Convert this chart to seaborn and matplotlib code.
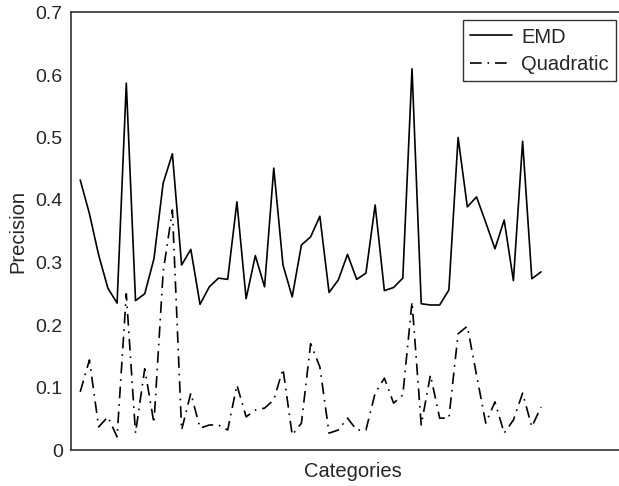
import numpy as np
import pandas as pd
import matplotlib
matplotlib.use('Agg')
import matplotlib.pyplot as plt
import seaborn as sns

# precision per category
emd = [0.432, 0.378, 0.312, 0.259, 0.235, 0.587, 0.239, 0.250, 0.306, 0.427,
       0.474, 0.296, 0.321, 0.233, 0.261, 0.275, 0.273, 0.397, 0.242, 0.311,
       0.261, 0.451, 0.296, 0.245, 0.328, 0.341, 0.374, 0.252, 0.272, 0.313,
       0.273, 0.283, 0.392, 0.255, 0.260, 0.275, 0.610, 0.234, 0.232, 0.232,
       0.256, 0.500, 0.389, 0.405, 0.364, 0.322, 0.368, 0.271, 0.494, 0.274, 0.285]
quadratic = [0.093, 0.144, 0.037, 0.053, 0.021, 0.250, 0.027, 0.130, 0.043, 0.285,
             0.384, 0.032, 0.091, 0.035, 0.040, 0.040, 0.032, 0.104, 0.053, 0.064,
             0.067, 0.080, 0.130, 0.024, 0.043, 0.170, 0.133, 0.027, 0.032, 0.051,
             0.032, 0.032, 0.091, 0.115, 0.075, 0.088, 0.237, 0.040, 0.120, 0.051,
             0.051, 0.186, 0.198, 0.120, 0.043, 0.077, 0.027, 0.048, 0.091, 0.037, 0.069]
categories = list(range(1, len(emd) + 1))
series_names = ['EMD', 'Quadratic']
yticks = [0, 0.1, 0.2, 0.3, 0.4, 0.5, 0.6, 0.7]
ytick_labels = ['0', '0.1', '0.2', '0.3', '0.4', '0.5', '0.6', '0.7']

df = pd.DataFrame({
    'Category': categories * 2,
    'Precision': emd + quadratic,
    'Method': [series_names[0]] * len(emd) + [series_names[1]] * len(quadratic),
})

sns.set_style('white')
plt.rcParams['font.family'] = ['Liberation Sans', 'DejaVu Sans']

W, H = 619, 486
fig = plt.figure(figsize=(W / 100, H / 100), dpi=100)
# right edge of the frame sits just past the picture, as in the reference
ax = fig.add_axes([71 / W, 1 - 450 / H, (624 - 71) / W, (450 - 12.5) / H])

sns.lineplot(data=df, x='Category', y='Precision', hue='Method', style='Method',
             palette=['black', 'black'],
             dashes={'EMD': '', 'Quadratic': (7, 3.5, 1, 3.5)},
             linewidth=1.2, ax=ax, legend=True)

ax.set_xlim(0, 60)
ax.set_ylim(0, 0.7)
ax.set_xticks([])
ax.set_yticks(yticks)
ax.set_yticklabels(ytick_labels)
ax.tick_params(axis='y', direction='in', length=5, width=1, labelsize=14, pad=6)
ax.set_xlabel('Categories', fontsize=14.5)
ax.xaxis.set_label_coords(0.51, -0.028)
ax.set_ylabel('Precision', fontsize=14.5, labelpad=6)
ax.spines['right'].set_visible(False)
for s in ax.spines.values():
    s.set_color('#222222')
    s.set_linewidth(1.1)

leg = ax.legend(loc='upper right', bbox_to_anchor=((616 - 71) / (624 - 71), 1 - 8 / 437.5),
                frameon=True, fancybox=False, edgecolor='black', fontsize=14.5,
                handlelength=2.1, handletextpad=0.45, borderpad=0.35, labelspacing=0.4,
                borderaxespad=0)
leg.get_frame().set_linewidth(1.0)

fig.savefig('out.png', dpi=100)
